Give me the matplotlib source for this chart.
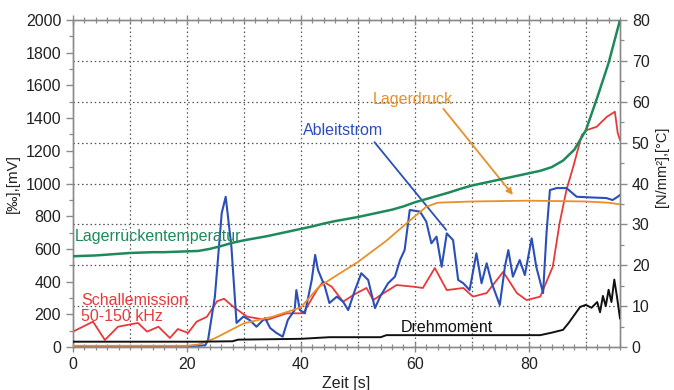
import matplotlib
matplotlib.use("Agg")
import matplotlib.pyplot as plt
from matplotlib.ticker import MultipleLocator

plt.rcParams['font.family'] = ['Liberation Sans', 'DejaVu Sans']

# ---- data ----
# Lagerrückentemperatur [°C] (right axis)
temp_t = [0, 2, 4, 6, 8, 10, 12, 14, 16, 18, 20, 22, 24, 26, 28, 30, 32, 34, 36, 38,
          40, 42, 44, 46, 48, 50, 52, 54, 56, 58, 60, 62, 64, 66, 68, 70, 72, 74, 76, 78,
          80, 82, 84, 86, 88, 90, 92, 94, 96]
temp_v = [22.2, 22.3, 22.4, 22.6, 22.8, 23.0, 23.1, 23.2, 23.2, 23.3, 23.4, 23.5, 24.0, 24.7,
          25.5, 26.1, 26.6, 27.1, 27.7, 28.3, 28.9, 29.5, 30.2, 30.8, 31.3, 31.8, 32.4, 33.0,
          33.6, 34.4, 35.4, 36.2, 37.0, 37.8, 38.7, 39.5, 40.1, 40.7, 41.3, 41.9, 42.5, 43.1,
          44.0, 45.6, 48.3, 53.0, 61.0, 69.5, 80.0]

# Lagerdruck [N/mm²] (right axis)
druck_t = [0, 10, 20, 22, 25, 30, 35, 40, 43, 45, 50, 55, 59, 62, 64, 70, 80, 90, 94, 96]
druck_v = [0.3, 0.3, 0.3, 0.6, 2.2, 5.8, 7.4, 9.7, 14.5, 16.4, 20.8, 26.0, 30.8, 34.3, 35.3,
           35.6, 35.8, 35.6, 35.3, 34.9]

# Drehmoment (right axis scale)
dreh_t = [0, 22, 28, 29, 40, 45, 54, 55, 82, 84, 86, 87, 89, 90, 91, 92, 92.5, 93, 93.5, 94,
          94.5, 95, 95.5, 96]
dreh_v = [1.3, 1.3, 1.4, 1.8, 2.0, 2.4, 2.4, 2.9, 2.9, 3.5, 4.2, 5.9, 9.8, 10.3, 9.6, 11.0,
          8.5, 12.5, 10.0, 14.0, 11.0, 16.5, 12.0, 7.0]

# Schallemission 50-150 kHz [‰] (left axis)
schall_t = [0, 3.5, 5.6, 7.9, 11.4, 13, 15, 17, 18.4, 20.2, 21.7, 23.5, 25.3, 26.5, 28, 30.5,
            34, 37.5, 40.4, 42.8, 43.9, 45.4, 47.4, 49.2, 51.5, 52.7, 54, 56.8, 59.7, 61.4,
            63.5, 65.6, 68.5, 70.2, 72.6, 75.5, 77.9, 79.6, 82, 84.2, 85.4, 86.6, 87.8, 89.3,
            90.2, 91.9, 93.7, 95.1, 95.6, 96]
schall_v = [94, 155, 43, 124, 147, 94, 124, 55, 110, 86, 155, 185, 280, 295, 250, 186,
            165, 206, 206, 348, 400, 369, 277, 318, 361, 287, 318, 379, 369, 361,
            483, 348, 361, 308, 330, 460, 330, 287, 308, 491, 758, 960, 1103, 1297,
            1327, 1347, 1408, 1439, 1309, 1266]

# Ableitstrom [mV] (left axis)
ableit_t = [0, 10, 20, 23.2, 23.7, 24.9, 26.1, 26.8, 27.8, 28.7, 29.9, 31, 32.2, 33.7, 34.6,
            35.7, 36.8, 37.7, 38.9, 39.2, 39.8, 40.7, 41.9, 42.5, 43, 44.2, 45, 46.3, 47.4,
            48.3, 49.5, 50.6, 51.8, 53, 53.9, 55.3, 56.5, 57.4, 58.2, 59.1, 60.9, 62, 62.9,
            63.8, 64.7, 65.6, 66.7, 67.6, 68.5, 69.6, 70.8, 71.7, 72.6, 73.5, 74.9, 75.8,
            76.4, 77.2, 78.4, 79.3, 80.5, 81.3, 82.5, 83.1, 83.7, 84.9, 86.6, 88.4, 90.7,
            93.6, 94.7, 95.6, 96]
ableit_v = [5, 5, 5, 10, 43, 308, 819, 919, 613, 147, 186, 165, 124, 177, 116,
            86, 63, 165, 226, 348, 226, 206, 410, 563, 471, 369, 269, 308, 277,
            226, 349, 451, 410, 238, 308, 390, 430, 532, 593, 838, 828, 767, 634,
            675, 491, 695, 654, 410, 390, 348, 573, 390, 512, 390, 257, 491,
            593, 430, 532, 440, 665, 491, 330, 695, 960, 972, 972, 919, 915,
            911, 899, 919, 930]

x_ticks = [0, 20, 40, 60, 80]
left_ticks = [0, 200, 400, 600, 800, 1000, 1200, 1400, 1600, 1800, 2000]
right_ticks = [0, 10, 20, 30, 40, 50, 60, 70, 80]

# ---- colours ----
c_green = '#1e8a5c'
c_orange = '#e8902c'
c_red = '#e8393a'
c_blue = '#2b4fb8'
c_black = '#111111'
c_grid = '#555555'
c_spine = '#8a8a8a'

fig = plt.figure(figsize=(6.74, 3.9), dpi=100)
ax = fig.add_axes([73/674, 43/390, (620-73)/674, (347-20)/390])
ax2 = ax.twinx()

ax.set_xlim(0, 96)
ax.set_ylim(0, 2000)
ax2.set_ylim(0, 80)

# grid
for gx in range(10, 96, 10):
    ax.axvline(gx, color=c_grid, lw=0.9, ls=(0, (1.2, 2.2)), zorder=0)
for gy in range(250, 2000, 250):
    ax.axhline(gy, color=c_grid, lw=0.9, ls=(0, (1.2, 2.2)), zorder=0)

# left-axis series
ax.plot(schall_t, schall_v, color=c_red, lw=1.3, zorder=3)
ax.plot(ableit_t, ableit_v, color=c_blue, lw=1.5, zorder=4)

# right-axis series
ax2.plot(druck_t, druck_v, color=c_orange, lw=1.3, zorder=3)
ax2.plot(temp_t, temp_v, color=c_green, lw=1.8, zorder=3)
ax2.plot(dreh_t, dreh_v, color=c_black, lw=1.4, zorder=3)

# ticks
ax.set_xticks(x_ticks)
ax.xaxis.set_minor_locator(MultipleLocator(2))
ax.set_yticks(left_ticks)
ax.yaxis.set_minor_locator(MultipleLocator(100))
ax2.set_yticks(right_ticks)
ax2.yaxis.set_minor_locator(MultipleLocator(5))

tick_font = dict(labelsize=11.5, labelcolor='#222222')
ax.tick_params(axis='x', which='major', direction='inout', length=7, width=1,
               color=c_spine, top=True, **tick_font)
ax.tick_params(axis='x', which='minor', direction='inout', length=5, width=0.9,
               color=c_spine, top=True)
ax.tick_params(axis='y', which='major', direction='out', length=5, width=1,
               color=c_spine, **tick_font)
ax.tick_params(axis='y', which='minor', direction='out', length=3, width=0.9, color=c_spine)
ax2.tick_params(axis='y', which='major', direction='out', length=5, width=1,
                color=c_spine, **tick_font)
ax2.tick_params(axis='y', which='minor', direction='out', length=3, width=0.9, color=c_spine)

for a in (ax, ax2):
    for s in a.spines.values():
        s.set_color(c_spine)
        s.set_linewidth(1.0)

ax.set_xlabel('Zeit [s]', fontsize=11.5, color='#222222', labelpad=3)
ax.set_ylabel('[‰],[mV]', fontsize=11, color='#222222')
ax.yaxis.set_label_coords(-0.097, 0.5)
ax2.set_ylabel('[N/mm²],[°C]', fontsize=10.5, color='#222222')
ax2.yaxis.set_label_coords(1.064, 0.55)

# annotations
ax.text(0.3, 673, 'Lagerrückentemperatur', color=c_green, fontsize=11.5,
        va='center', ha='left', zorder=6)
ax.text(1.4, 287, 'Schallemission', color=c_red, fontsize=11.5,
        va='center', ha='left', zorder=6)
ax.text(1.4, 185, '50-150 kHz', color=c_red, fontsize=11.5,
        va='center', ha='left', zorder=6)
ax.text(57.6, 122, 'Drehmoment', color=c_black, fontsize=11.5,
        va='center', ha='left', zorder=6)
ax.text(40.4, 1327, 'Ableitstrom', color=c_blue, fontsize=11.5,
        va='center', ha='left', zorder=6)
ax.text(52.6, 1511, 'Lagerdruck', color=c_orange, fontsize=11.5,
        va='center', ha='left', zorder=6)

ax.annotate('', xy=(65.8, 703), xytext=(52.6, 1266),
            arrowprops=dict(arrowstyle='-', color=c_blue, lw=1.3), zorder=6)
ax.annotate('', xy=(77.5, 917), xytext=(64.7, 1470),
            arrowprops=dict(arrowstyle='-|>', color=c_orange, lw=1.3,
                            mutation_scale=9), zorder=6)

fig.savefig('out.png', dpi=100)
